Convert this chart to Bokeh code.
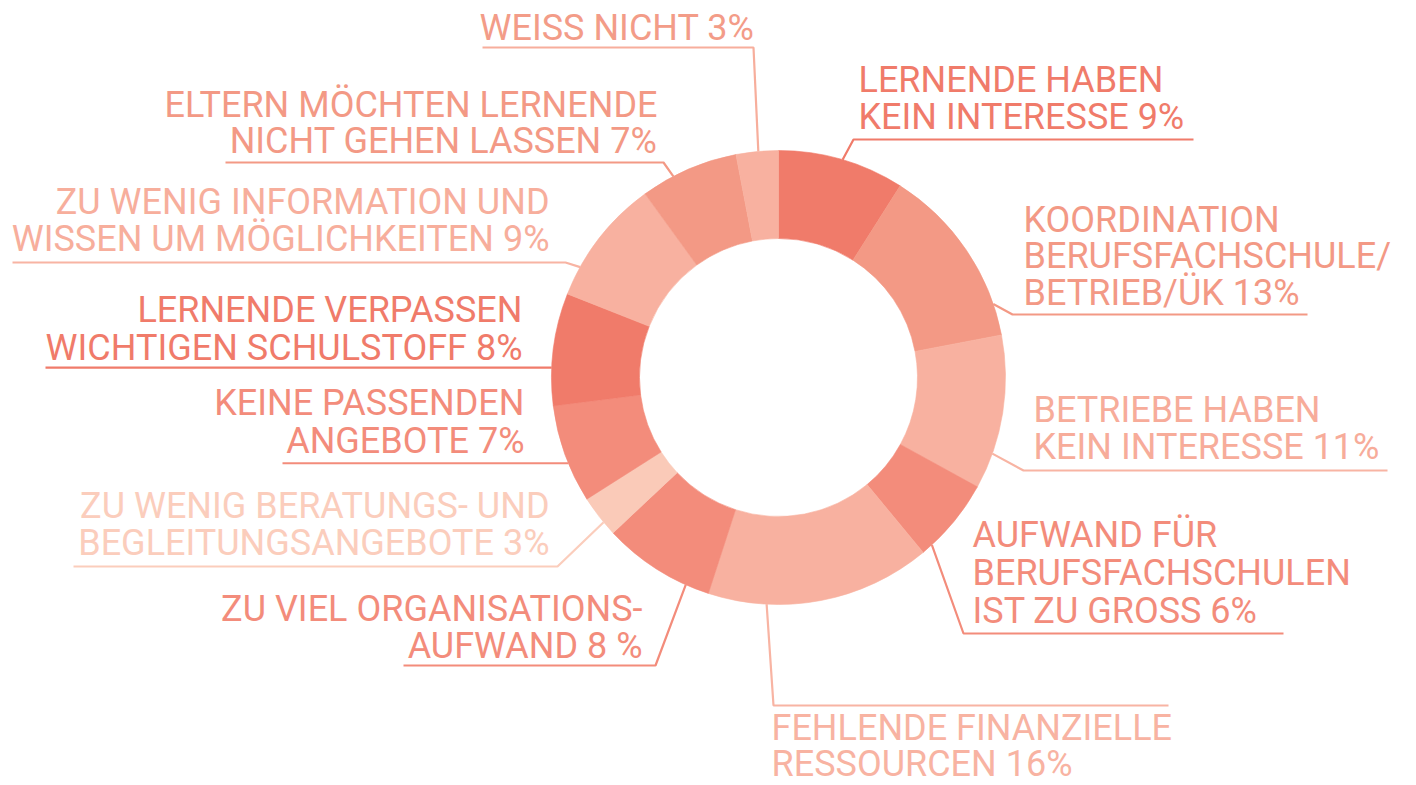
import math
from bokeh.plotting import figure
from bokeh.models import Range1d, ColumnDataSource
from bokeh.core.properties import value
from bokeh.embed import file_html
from bokeh.resources import INLINE

# ---------------- data ----------------
categories = [
    "Lernende haben kein Interesse",
    "Koordination Berufsfachschule/Betrieb/ÜK",
    "Betriebe haben kein Interesse",
    "Aufwand für Berufsfachschulen ist zu gross",
    "Fehlende finanzielle Ressourcen",
    "Zu viel Organisationsaufwand",
    "Zu wenig Beratungs- und Begleitungsangebote",
    "Keine passenden Angebote",
    "Lernende verpassen wichtigen Schulstoff",
    "Zu wenig Information und Wissen um Möglichkeiten",
    "Eltern möchten Lernende nicht gehen lassen",
    "Weiss nicht",
]
shares = [9, 13, 11, 6, 16, 8, 3, 7, 8, 9, 7, 3]
label_lines = [
    ["LERNENDE HABEN", "KEIN INTERESSE {}%"],
    ["KOORDINATION", "BERUFSFACHSCHULE/", "BETRIEB/ÜK {}%"],
    ["BETRIEBE HABEN", "KEIN INTERESSE {}%"],
    ["AUFWAND FÜR", "BERUFSFACHSCHULEN", "IST ZU GROSS {}%"],
    ["FEHLENDE FINANZIELLE", "RESSOURCEN {}%"],
    ["ZU VIEL ORGANISATIONS-", "AUFWAND {} %"],
    ["ZU WENIG BERATUNGS- UND", "BEGLEITUNGSANGEBOTE {}%"],
    ["KEINE PASSENDEN", "ANGEBOTE {}%"],
    ["LERNENDE VERPASSEN", "WICHTIGEN SCHULSTOFF {}%"],
    ["ZU WENIG INFORMATION UND", "WISSEN UM MÖGLICHKEITEN {}%"],
    ["ELTERN MÖCHTEN LERNENDE", "NICHT GEHEN LASSEN {}%"],
    ["WEISS NICHT {}%"],
]

# ---------------- styles / layout ----------------
DARK, MED, MID2, LIGHT, PALE = "#F07B6A", "#F39985", "#F38C7B", "#F8B1A0", "#FACAB8"
slice_colors = [DARK, MED, LIGHT, MID2, LIGHT, MID2, PALE, MID2, DARK, LIGHT, MED, LIGHT]
text_colors = [DARK, MED, "#F7AC9A", MID2, "#F8B3A2", MID2, "#FBCDBC", MID2, DARK, "#F7AE9C", MED, "#F39C88"]
line_colors = [DARK, MED, "#F8B4A3", MID2, "#F8B4A3", MID2, "#FBCDBC", MID2, DARK, "#F8B4A3", MED, "#F7AE9C"]

CX, CY = 778, 377          # donut centre (page pixels)
R_OUT, R_IN = 227, 139
CAP_SHIFT = 13             # text is placed by its cap centre

# label layout: (align, anchor x, baselines, leader angle (deg clockwise from top), elbow, end x)
layout = [
    ("left", 858, [92, 129], 16.4, (853, 139), 1193),
    ("left", 1023, [232, 268, 305], 71.1, (1012, 314), 1307),
    ("left", 1033, [422, 459], 109.6, (1023, 470), 1387),
    ("left", 972, [547, 585, 623], 137.5, (963, 633), 1283),
    ("left", 771, [740, 776], 183.0, (773, 705), 1168),
    ("right", 642, [621, 658], 204.1, (655, 665), 403),
    ("right", 549, [518, 555], 230.4, (557, 566), 73),
    ("right", 524, [415, 453], 247.8, None, 282),
    ("right", 522, [322, 360], 272.5, None, 45),
    ("right", 549, [214, 251], 299.1, (565, 262), 12),
    ("right", 657, [117, 153], 332.4, (663, 162), 225),
    ("right", 754, [40], 354.9, (753, 47), 482),
]

def X(px):
    return px

def Y(py):
    return -py

W, H = 1416, 785
p = figure(width=W, height=H, output_backend="svg", toolbar_location=None,
           x_range=Range1d(0, W), y_range=Range1d(-H, 0),
           min_border=0, x_axis_location=None, y_axis_location=None,
           background_fill_color="white", border_fill_color="white")
p.outline_line_color = None
p.grid.visible = False

# ---------------- donut ----------------
total = float(sum(shares))
starts, ends = [], []
cum = 0.0
for v in shares:
    starts.append(math.pi / 2 - 2 * math.pi * cum / total)
    cum += v
    ends.append(math.pi / 2 - 2 * math.pi * cum / total)
wsrc = ColumnDataSource(dict(x=[X(CX)] * len(shares), y=[Y(CY)] * len(shares),
                             start=starts, end=ends, color=slice_colors, cat=categories))
p.annular_wedge(x="x", y="y", inner_radius=R_IN, outer_radius=R_OUT,
                start_angle="start", end_angle="end", direction="clock",
                fill_color="color", line_color="color", line_width=0.6, source=wsrc)

# ---------------- leaders ----------------
xs, ys, lc = [], [], []
for i, (align, ax, bls, ang, elbow, xend) in enumerate(layout):
    a = math.radians(ang)
    dx = CX + R_OUT * math.sin(a)
    dy = CY - R_OUT * math.cos(a)
    if elbow is None:
        pts = [(dx, dy), (xend, dy)]
    else:
        pts = [(dx, dy), elbow, (xend, elbow[1])]
    xs.append([X(q[0]) for q in pts])
    ys.append([Y(q[1]) for q in pts])
    lc.append(line_colors[i])
p.multi_line(xs="xs", ys="ys", line_color="c", line_width=2.2,
             source=ColumnDataSource(dict(xs=xs, ys=ys, c=lc)))

# ---------------- labels ----------------
for side in ("left", "right"):
    tx, ty, tt, tc = [], [], [], []
    for i, (align, ax, bls, ang, elbow, xend) in enumerate(layout):
        if align != side:
            continue
        for line, bl in zip(label_lines[i], bls):
            tx.append(X(ax))
            ty.append(Y(bl - CAP_SHIFT))
            tt.append(line.format(shares[i]))
            tc.append(text_colors[i])
    p.text(x="x", y="y", text="t", text_color="c", text_align=side,
           text_baseline="alphabetic", text_font=value("Roboto"),
           text_font_size="36px", source=ColumnDataSource(dict(x=tx, y=ty, t=tt, c=tc)))

open("out.html", "w").write(file_html(p, INLINE))
